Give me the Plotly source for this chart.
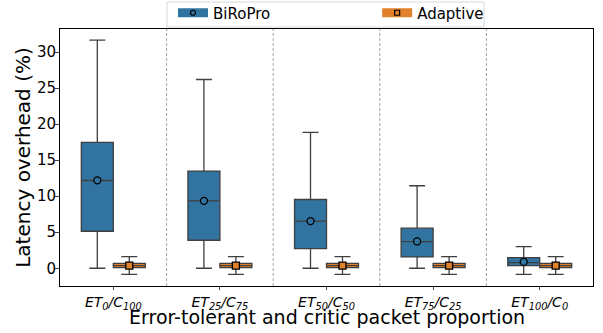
import plotly.graph_objects as go

categories = ["ET<sub>0</sub>/C<sub>100</sub>", "ET<sub>25</sub>/C<sub>75</sub>",
              "ET<sub>50</sub>/C<sub>50</sub>", "ET<sub>75</sub>/C<sub>25</sub>",
              "ET<sub>100</sub>/C<sub>0</sub>"]

biro_low = [0.0, 0.0, 0.0, 0.0, -0.84]
biro_q1 = [5.14, 3.89, 2.73, 1.57, 0.37]
biro_med = [12.18, 9.36, 6.53, 3.70, 0.78]
biro_q3 = [17.47, 13.49, 9.54, 5.56, 1.48]
biro_high = [31.66, 26.19, 18.86, 11.45, 3.0]
biro_mean = [12.2, 9.36, 6.55, 3.72, 0.88]

adap_low = [-0.84, -0.84, -0.84, -0.84, -0.84]
adap_q1 = [0.09, 0.09, 0.09, 0.09, 0.09]
adap_med = [0.37, 0.37, 0.37, 0.37, 0.37]
adap_q3 = [0.69, 0.69, 0.69, 0.69, 0.69]
adap_high = [1.62, 1.62, 1.62, 1.62, 1.62]
adap_mean = [0.38, 0.38, 0.38, 0.38, 0.38]

BLUE = "#3274a1"
ORANGE = "#e1812c"
EDGE = "#3f3f3f"
idx = list(range(len(categories)))
xb = [i - 0.15 for i in idx]
xa = [i + 0.15 for i in idx]

fig = go.Figure()
fig.add_trace(go.Box(name="BiRoPro", x=xb, q1=biro_q1, median=biro_med, q3=biro_q3,
                     lowerfence=biro_low, upperfence=biro_high, width=0.3,
                     fillcolor=BLUE, line=dict(color=EDGE, width=1.3),
                     whiskerwidth=0.5, boxpoints=False, showlegend=False))
fig.add_trace(go.Box(name="Adaptive", x=xa, q1=adap_q1, median=adap_med, q3=adap_q3,
                     lowerfence=adap_low, upperfence=adap_high, width=0.3,
                     fillcolor=ORANGE, line=dict(color=EDGE, width=1.3),
                     whiskerwidth=0.5, boxpoints=False, showlegend=False))
fig.add_trace(go.Scatter(x=xb, y=biro_mean, mode="markers", showlegend=False,
                         marker=dict(symbol="circle", size=7, color=BLUE,
                                     line=dict(color="black", width=1.3))))
fig.add_trace(go.Scatter(x=xa, y=adap_mean, mode="markers", showlegend=False,
                         marker=dict(symbol="square", size=7, color=ORANGE,
                                     line=dict(color="black", width=1.3))))
# legend entries
fig.add_trace(go.Scatter(x=[None], y=[None], name="BiRoPro", mode="lines+markers",
                         line=dict(color=BLUE, width=9), legend="legend",
                         marker=dict(symbol="circle", size=5, color=BLUE,
                                     line=dict(color="black", width=1.2))))
fig.add_trace(go.Scatter(x=[None], y=[None], name="Adaptive", mode="lines+markers",
                         line=dict(color=ORANGE, width=9), legend="legend2",
                         marker=dict(symbol="square", size=5, color=ORANGE,
                                     line=dict(color="black", width=1.2))))

for i in idx[:-1]:
    fig.add_shape(type="line", x0=i + 0.5, x1=i + 0.5, y0=0, y1=1, xref="x", yref="paper",
                  line=dict(color="#a0a0a0", width=1, dash="3px,2px"), layer="below")
fig.add_shape(type="rect", xref="paper", yref="paper", x0=0.2008, x1=0.7955,
              y0=1.0078, y1=1.1051, line=dict(color="#d8d8d8", width=1),
              fillcolor="rgba(255,255,255,0.8)", layer="below")

leg_common = dict(orientation="h", yanchor="middle", y=1.0623, xanchor="left",
                  borderwidth=0, bgcolor="rgba(0,0,0,0)", font=dict(size=15),
                  itemsizing="trace")
fig.update_layout(
    width=603, height=333,
    margin=dict(l=60, r=10, t=29, b=47, autoexpand=False),
    paper_bgcolor="white", plot_bgcolor="white",
    font=dict(family="DejaVu Sans", color="black"),
    showlegend=True,
    legend=dict(x=0.2120, **leg_common),
    legend2=dict(x=0.5950, **leg_common),
    annotations=[dict(text="Error-tolerant and critic packet proportion", xref="paper",
                      yref="paper", x=0.5, y=-0.1206, xanchor="center", yanchor="middle",
                      showarrow=False, font=dict(size=19))],
)
fig.update_xaxes(range=[-0.5, 4.5], tickmode="array", tickvals=idx,
                 ticktext=["<i>" + c + "</i>" for c in categories],
                 tickfont=dict(size=14), showgrid=False, zeroline=False,
                 showline=True, linecolor="black", linewidth=1, mirror=True,
                 ticks="outside", ticklen=3)
fig.update_yaxes(range=[-2.46, 33.2], tickmode="array", tickvals=[0, 5, 10, 15, 20, 25, 30],
                 tickfont=dict(size=15), showgrid=False, zeroline=False,
                 showline=True, linecolor="black", linewidth=1, mirror=True,
                 ticks="outside", ticklen=4, ticklabelstandoff=-4,
                 title=dict(text="Latency overhead (%)", font=dict(size=20), standoff=0))

fig.write_html("out.html", post_script="document.body.style.margin='0';",
               config={"displayModeBar": False})
